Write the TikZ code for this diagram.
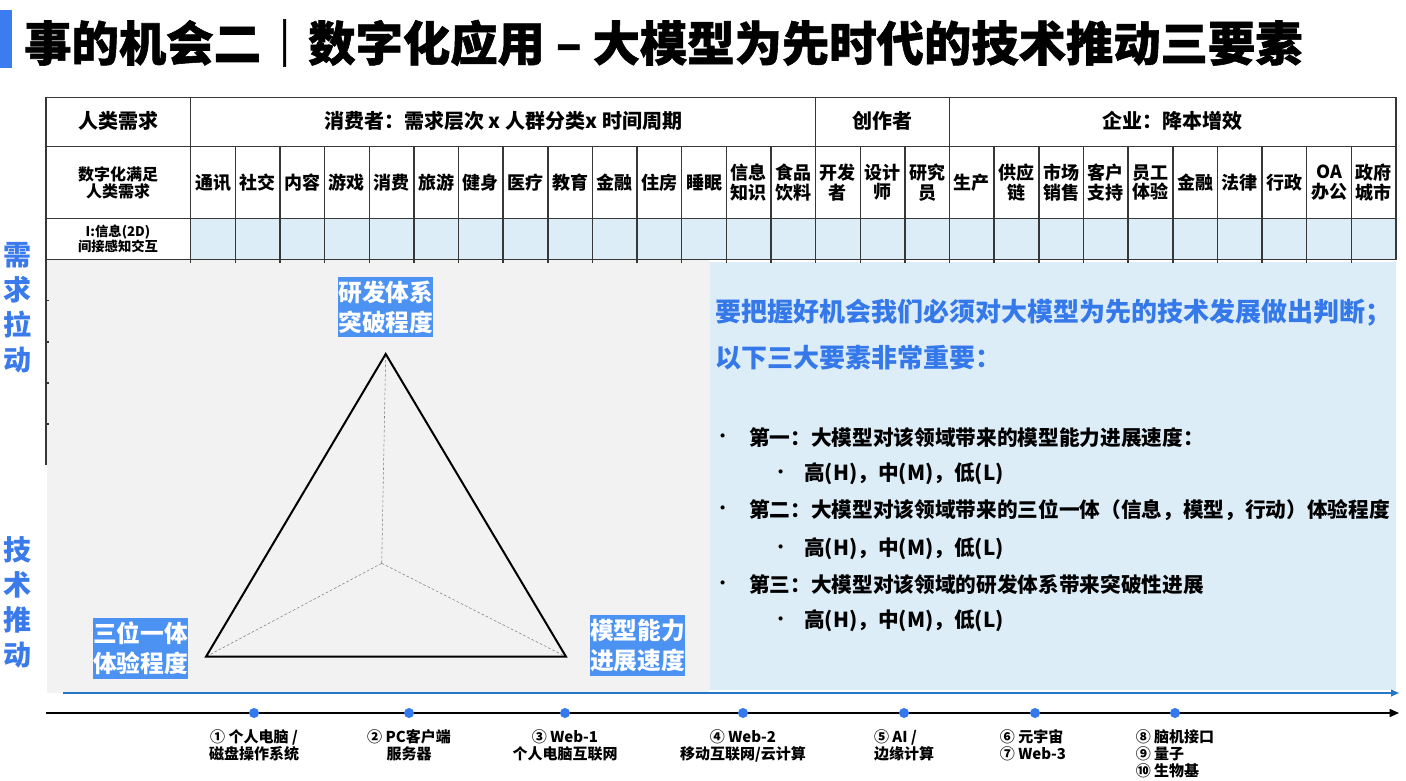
\documentclass[tikz,border=0pt]{standalone}
\usepackage{fontspec}
\setmainfont{Noto Sans CJK SC}
\newfontfamily\headingfont{Noto Sans CJK SC}[BoldFeatures={FakeBold=1.2}]
\usetikzlibrary{arrows.meta}

\definecolor{barblue}{RGB}{59,125,240}
\definecolor{sideblue}{RGB}{58,122,235}
\definecolor{tagblue}{RGB}{76,146,242}
\definecolor{textblue}{RGB}{52,120,234}
\definecolor{paleblue}{RGB}{221,237,248}
\definecolor{panelgray}{RGB}{242,242,242}
\definecolor{gridgray}{RGB}{55,55,55}
\definecolor{lineblue}{RGB}{38,118,200}
\definecolor{dotblue}{RGB}{52,122,236}

\newcommand\fsz[2]{\fontsize{#1}{#2}\selectfont\bfseries}

\tikzset{
  gridline/.style={draw=gridgray, line width=1.1pt},
  hdr/.style={font=\fsz{15}{18}, inner sep=0},
  colcell/.style={font=\fsz{13.5}{14.5}, align=center, inner sep=0},
  rowhead/.style={font=\fsz{12}{12.75}, align=center, inner sep=0},
  rowsmall/.style={font=\fsz{10}{11.25}, align=center, inner sep=0},
  sidelabel/.style={font=\fsz{21}{26.25}, text=sideblue, align=center, inner sep=0},
  tag/.style={fill=tagblue, text=white, font=\fsz{17.8}{22.5}, align=center, inner xsep=0pt, inner ysep=3pt},
  bigline/.style={font=\fsz{19.5}{24}, text=textblue, anchor=west, inner sep=0},
  itemtext/.style={font=\fsz{15.5}{18}, anchor=west, inner sep=0},
  era/.style={font=\fsz{11.25}{12.75}, anchor=north, inner sep=0},
  dot/.style={circle, fill=dotblue, inner sep=0, minimum size=7.5pt},
  edge3d/.style={draw=black, line width=1.5pt, line join=miter},
  hidden/.style={draw=gray, dashed, line width=0.4pt, dash pattern=on 2pt off 1.5pt}
}

\begin{document}
\begin{tikzpicture}[x=0.75pt,y=-0.75pt]
\useasboundingbox (0,0) rectangle (1406,781);
\fill[white] (0,0) rectangle (1406,781);

% heading
\fill[barblue] (0,10) rectangle (12,68);
\node[anchor=west, inner sep=0, font=\headingfont\fontsize{35.5}{40}\selectfont\bfseries] (title) at (24,43)
  {事的机会二｜数字化应用 – 大模型为先时代的技术推动三要素};

% panels under the table
\fill[panelgray] (47,259.5) rectangle (710,693);
\fill[paleblue] (710,262) rectangle (1396,690);

% table: shaded third row
\fill[paleblue] (190.7,218.5) rectangle (1396,259.5);

% table grid
\draw[gridline] (46,97.5) rectangle (1396,259.5);
\draw[gridline] (46,146.5) -- (1396,146.5);
\draw[gridline] (46,218.5) -- (1396,218.5);
\draw[gridline] (190.7,97.5) -- (190.7,263);
\draw[gridline] (815.7,97.5) -- (815.7,263);
\draw[gridline] (949.6,97.5) -- (949.6,263);
\foreach \k in {1,...,26}
  \draw[gridline] ({190.7+44.64*\k},146.5) -- ({190.7+44.64*\k},263);
% left border running on beside the panel
\draw[gridline] (46,259.5) -- (46,465);
\foreach \yy in {300.7,342,383,424}
  \draw[gridline, line width=0.8pt] (46,\yy) -- ++(3,0);

% table headings
\node[hdr] (hneed) at (118,121) {人类需求};
\node[hdr] (hcons) at (503.2,121) {消费者：需求层次 x 人群分类x 时间周期};
\node[hdr] (hcrea) at (882.6,121) {创作者};
\node[hdr] (hent)  at (1172.8,121) {企业：降本增效};
\node[rowhead] (rdig) at (118,182.5) {数字化满足\\人类需求};
\node[rowsmall] (rinfo) at (118,239) {I:信息(2D)\\间接感知交互};

\foreach \t [count=\i from 0] in {通讯,社交,内容,游戏,消费,旅游,健身,医疗,教育,金融,住房,睡眠,{信息\\知识},{食品\\饮料},{开发\\者},{设计\\师},{研究\\员},生产,{供应\\链},{市场\\销售},{客户\\支持},{员工\\体验},金融,法律,行政,{OA\\办公},{政府\\城市}}
  \node[colcell] (col\i) at ({190.7+44.64*(\i+0.5)},182.5) {\t};

% side captions
\node[sidelabel] (pull) at (17,307.5) {需\\求\\拉\\动};
\node[sidelabel] (push) at (17,602.5) {技\\术\\推\\动};

% three-factor pyramid
\coordinate (apex) at (385.7,354);
\coordinate (left) at (206,656.7);
\coordinate (right) at (566,656.7);
\coordinate (core) at (381.7,563.3);
\draw[hidden] (core) -- (apex);
\draw[hidden] (core) -- (left);
\draw[hidden] (core) -- (right);
\draw[edge3d] (apex) -- (left) -- (right) -- cycle;

\node[tag] (tagrd) at (385.8,306.9) {研发体系\\突破程度};
\node[tag] (tagmodel) at (637.5,645.8) {模型能力\\进展速度};
\node[tag] (tagexp) at (140.5,648) {三位一体\\体验程度};

% key message
\node[bigline] (msg1) at (715,313) {要把握好机会我们必须对大模型为先的技术发展做出判断；};
\node[bigline] (msg2) at (715,358) {以下三大要素非常重要：};

\foreach \yy/\txt [count=\n] in {438/{第一：大模型对该领域带来的模型能力进展速度：},
                       510/{第二：大模型对该领域带来的三位一体（信息，模型，行动）体验程度},
                       585/{第三：大模型对该领域的研发体系带来突破性进展}} {
  \node[itemtext, font=\fsz{11}{14}] (b\n) at (715,\yy) {•};
  \node[itemtext] (item\n) at (749,\yy) {\txt};
}
\foreach \yy [count=\n] in {474,549,621} {
  \node[itemtext, font=\fsz{11}{14}] (sb\n) at (773,\yy) {•};
  \node[itemtext] (lvl\n) at (804,\yy) {高(H)，中(M)，低(L)};
}

% timeline
\coordinate (blueA) at (63,693);
\coordinate (blueB) at (1399,693);
\draw[lineblue, line width=1.3pt, -{Triangle[length=6pt,width=5pt]}] (blueA) -- (blueB);
\coordinate (axisA) at (46,713);
\coordinate (axisB) at (1399,713);
\draw[black, line width=1.1pt, -{Triangle[length=7pt,width=6pt]}] (axisA) -- (axisB);

\foreach \xx [count=\n] in {254,409,565,743,904,1035,1175}
  \node[dot] (d\n) at (\xx,713) {};

\node[era, align=center] (e1) at (254,729) {① 个人电脑 /\\磁盘操作系统};
\node[era, align=center] (e2) at (409,729) {② PC客户端\\服务器};
\node[era, align=center] (e3) at (565,729) {③ Web-1\\个人电脑互联网};
\node[era, align=center] (e4) at (743,729) {④ Web-2\\移动互联网/云计算};
\node[era, align=left] (e5) at (904,729) {⑤ AI /\\边缘计算};
\node[era, align=left] (e6) at (1033,729) {⑥ 元宇宙\\⑦ Web-3};
\node[era, align=left] (e7) at (1175,729) {⑧ 脑机接口\\⑨ 量子\\⑩ 生物基};
\end{tikzpicture}
\end{document}
